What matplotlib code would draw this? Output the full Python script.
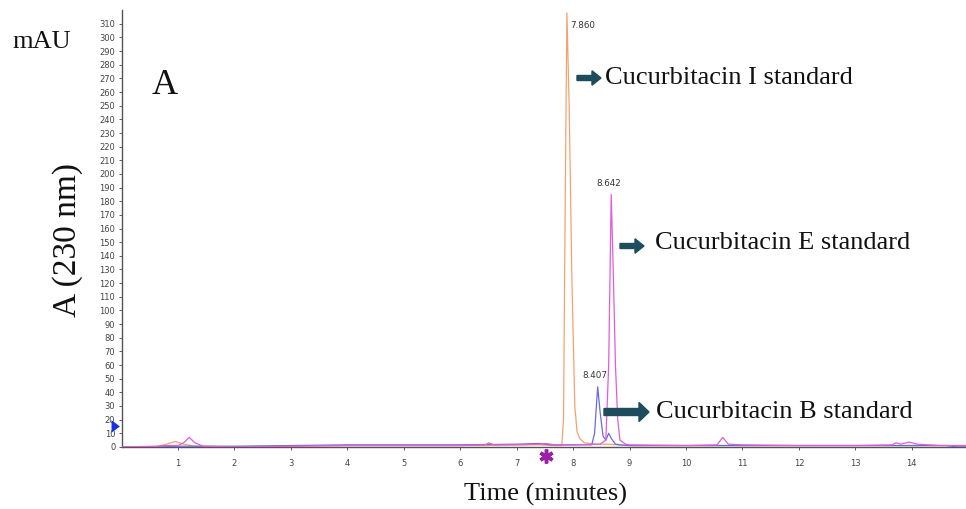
import matplotlib
matplotlib.use("Agg")
import matplotlib.pyplot as plt
from matplotlib.patches import FancyArrow

# ---- data ----
t_I = [0, 0.6, 0.8, 0.95, 1.1, 1.3, 2, 3, 4, 5, 6, 6.5, 7, 7.4, 7.7, 7.80, 7.83, 7.86, 7.89,
       7.93, 7.98, 8.03, 8.07, 8.12, 8.2, 8.4, 8.6, 8.8, 9, 10, 11, 12, 13, 14, 15]
a_I = [0, 0, 2, 4, 2, 0.5, 0, 0.5, 1, 1, 1, 1, 1.5, 1.5, 1, 1, 20, 180, 318,
       250, 120, 30, 11, 6, 3, 2, 2, 1.5, 1, 1, 1, 1, 1, 1, 1]

t_E = [0, 0.6, 0.8, 1.0, 1.1, 1.2, 1.3, 1.45, 2, 3, 4, 5, 6, 6.45, 6.5, 6.6, 7, 7.4, 7.5, 7.7,
       8.0, 8.48, 8.58, 8.63, 8.675, 8.71, 8.75, 8.79, 8.83, 8.93, 9, 10, 10.55, 10.65, 10.75,
       11, 12, 13, 13.65, 13.72, 13.8, 13.95, 14.1, 14.5, 15]
a_E = [0, 0.5, 1, 1, 3, 7, 3, 0.5, 0, 0.5, 1, 1, 1, 1.5, 3, 1.5, 1.5, 2, 2.5, 1.5,
       1.5, 2, 5, 60, 185, 130, 60, 20, 5, 2, 1.5, 1, 1.5, 7, 2,
       1.5, 1, 1, 1.5, 3, 2, 3.5, 2, 1, 1]

t_B = [0, 0.6, 1, 2, 3, 4, 5, 6, 7, 7.4, 7.6, 8.0, 8.33, 8.38, 8.435, 8.48, 8.53, 8.58, 8.63,
       8.68, 8.75, 8.83, 9, 10, 11, 12, 13, 14, 14.6, 14.8, 15]
a_B = [0, 0, 0.5, 0.5, 1, 1.5, 1.5, 1.5, 2, 2.5, 1.5, 1.5, 1.5, 10, 44, 25, 8, 5, 10,
       6, 2, 1.5, 1, 1, 1, 1, 1, 1, 1, 0, 0]

peak_labels = ["7.860", "8.642", "8.407"]
peak_times = [7.89, 8.675, 8.435]
peak_heights = [318, 185, 44]

compounds = ["Cucurbitacin I standard", "Cucurbitacin E standard", "Cucurbitacin B standard"]

x_ticks = list(range(1, 15))
y_ticks = list(range(0, 320, 10))

# ---- figure ----
fig = plt.figure(figsize=(9.66, 5.09), dpi=100)
ax = fig.add_axes([0.1258, 0.122, 0.8742, 0.858])

ax.plot(t_B, a_B, color="#6a6ae0", lw=0.9, zorder=3)
ax.plot(t_I, a_I, color="#f2a272", lw=0.9, zorder=2)
ax.plot(t_E, a_E, color="#e45cd6", lw=0.9, zorder=4)

ax.set_xlim(0, 14.96)
ax.set_ylim(0, 320)
ax.set_xticks(x_ticks)
ax.set_yticks(y_ticks)
ax.tick_params(axis="both", labelsize=6, colors="#444444", length=2.5, width=0.6, pad=2)
ax.tick_params(axis="x", pad=6)
for s in ["top", "right"]:
    ax.spines[s].set_visible(False)
for s in ["left", "bottom"]:
    ax.spines[s].set_color("#555555")
    ax.spines[s].set_linewidth(1.0)

# peak retention-time labels
offs = [(0.06, -6), (-0.05, 5), (-0.05, 5)]
for lab, tt, hh, (dx, dy) in zip(peak_labels, peak_times, peak_heights, offs):
    ax.text(tt + dx, hh + dy, lab, fontsize=6.3, color="#333333",
            ha="left" if dx > 0 else "center", va="bottom" if dy > 0 else "top")

serif = "Liberation Serif"
arrow_col = "#1e4c5c"


def fx(px):
    return px / 966


def fy(py):
    return 1 - py / 509


arrows = [(577, 78, 24, 5, 9, 9), (620, 246, 24, 5, 9, 9), (604, 412, 45, 7, 12, 10)]
text_pos = [(605, 78), (655, 243), (656, 412)]
for (x0, y0, L, w, hw, hl), (tx, ty), name in zip(arrows, text_pos, compounds):
    fig.patches.append(FancyArrow(x0, 509 - y0, L, 0, width=w, head_width=hw * 1.6,
                                  head_length=hl, length_includes_head=True,
                                  color=arrow_col, transform=None, figure=fig))
    fig.text(fx(tx), fy(ty), name, fontsize=19, family=serif, color="#111111",
             ha="left", va="center")

fig.text(fx(12), fy(42), "mAU", fontsize=19, family=serif, color="#111111", ha="left", va="center")
fig.text(fx(152), fy(85), "A", fontsize=26, family=serif, color="#111111", ha="left", va="center")
fig.text(fx(68), fy(240), "A (230 nm)", fontsize=24, family=serif, color="#111111",
         rotation=90, ha="center", va="center")
fig.text(fx(545), fy(494), "Time (minutes)", fontsize=19, family=serif, color="#111111",
         ha="center", va="center")

# small markers: blue arrow on y axis and purple star below x axis
ax.annotate("", xy=(0.02, 15), xytext=(-0.2, 15), xycoords="data",
            arrowprops=dict(arrowstyle="simple,head_length=0.6,head_width=0.9,tail_width=0.5",
                            color="#1a2fe0", lw=0), annotation_clip=False)
ax.plot([7.52], [-7], marker=(6, 2, 0), markersize=10, mew=2.5, color="#9b1fa8",
        clip_on=False, zorder=6)

fig.savefig("out.png", dpi=100)
